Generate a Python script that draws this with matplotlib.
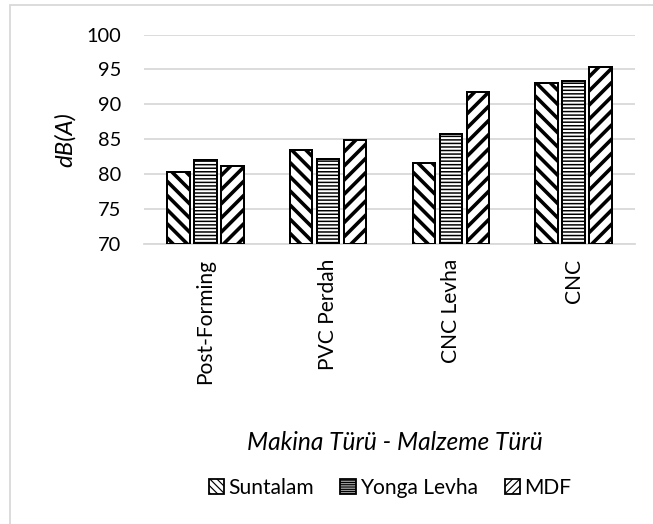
import matplotlib

matplotlib.use("Agg")
import matplotlib.pyplot as plt
import numpy as np
from matplotlib.patches import Patch, Rectangle

categories = ["Post-Forming", "PVC Perdah", "CNC Levha", "CNC"]
suntalam = [80.3, 83.4, 81.6, 93.0]
yonga = [82.0, 82.2, 85.8, 93.3]
mdf = [81.2, 84.9, 91.8, 95.4]
series_names = ["Suntalam", "Yonga Levha", "MDF"]
yticks = [70, 75, 80, 85, 90, 95, 100]

W, H, DPI = 653, 524, 85


def pt(px):
    # sizes below are worked out in output pixels
    return px * 72 / DPI


plt.rcParams["font.family"] = ["Lato", "DejaVu Sans"]

fig = plt.figure(figsize=(W / DPI, H / DPI), dpi=DPI)
ax = fig.add_axes([144 / W, 1 - 244 / H, 491 / W, 209.5 / H])

# light frame like the spreadsheet chart area
fig.patches.append(Rectangle((10 / W, -0.1), 1.2, 1 - 5 / H + 0.1, transform=fig.transFigure,
                             fill=False, edgecolor="#d9d9d9", linewidth=pt(1.8)))

x = np.arange(len(categories))
styles = [("\\\\", pt(3.6)), ("----", pt(1.5)), ("//", pt(3.6))]
offsets = [-0.22, 0.0, 0.22]
handles = []
for vals, off, (hatch, hlw), name in zip([suntalam, yonga, mdf], offsets, styles, series_names):
    with plt.rc_context({"hatch.linewidth": hlw}):
        bars = ax.bar(x + off, np.array(vals) - 70, bottom=70, width=0.183,
                      color="white", edgecolor="black", linewidth=pt(2.0), hatch=hatch, zorder=3)
        for b in bars:
            if hasattr(b, "set_hatch_linewidth"):
                b.set_hatch_linewidth(hlw)
        h = Patch(facecolor="white", edgecolor="black", hatch=hatch * 2, linewidth=pt(1.8), label=name)
        if hasattr(h, "set_hatch_linewidth"):
            h.set_hatch_linewidth(hlw)
        handles.append(h)

ax.set_xlim(-0.5, 3.5)
ax.set_ylim(70, 100)
ax.set_yticks(yticks)
ax.set_xticks(x)
ax.set_xticklabels(categories, rotation=90, va="top")
ax.tick_params(axis="y", length=0, labelsize=pt(20), pad=pt(23))
ax.tick_params(axis="x", length=0, labelsize=pt(21), pad=pt(15))
ax.grid(axis="y", color="#d9d9d9", linewidth=pt(1.8), zorder=0)
for s in ["top", "right", "left"]:
    ax.spines[s].set_visible(False)
ax.spines["bottom"].set_color("#d9d9d9")
ax.spines["bottom"].set_linewidth(pt(1.8))

ax.set_ylabel("dB(A)", fontsize=pt(24), style="italic")
ax.yaxis.set_label_coords((76 - 144) / 491, 0.5)

fig.text(395 / W, 1 - 442 / H, "Makina Türü - Malzeme Türü", ha="center", va="center",
         fontsize=pt(24.5), style="italic")
fig.legend(handles=handles, loc="center", bbox_to_anchor=(390 / W, 1 - 488 / H), ncol=3,
           frameon=False, fontsize=pt(21), handlelength=0.75, handleheight=0.75,
           handletextpad=0.2, columnspacing=1.25)

fig.savefig("out.png", dpi=DPI)
